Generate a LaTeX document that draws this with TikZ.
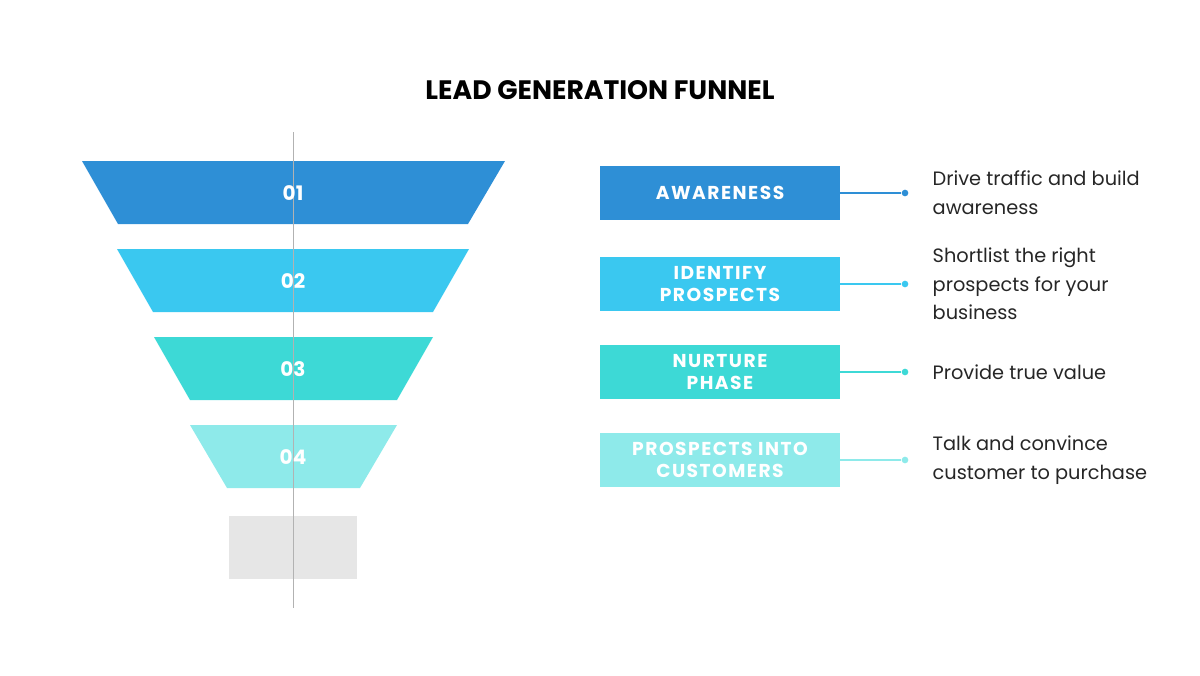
\documentclass[tikz,border=0pt]{standalone}
\usepackage{fontspec}
\setmainfont{Poppins}
\newfontfamily\boxfont[LetterSpace=8]{Poppins}
\definecolor{cA}{HTML}{2E8FD6}
\definecolor{cB}{HTML}{3AC8F0}
\definecolor{cC}{HTML}{3DD9D6}
\definecolor{cD}{HTML}{8EEAEA}
\definecolor{gr}{HTML}{E6E6E6}
\begin{document}
\begin{tikzpicture}[x=0.75pt,y=-0.75pt,
  num/.style={text=white,font=\fontsize{15}{18}\selectfont\bfseries},
  lbl/.style={text=white,font=\boxfont\fontsize{14}{17}\selectfont\bfseries,align=center},
  desc/.style={anchor=west,align=left,font=\fontsize{14.5}{21.5}\selectfont,text=black!85},
  dot/.style={circle,inner sep=0pt,minimum size=5pt}]
\useasboundingbox (0,0) rectangle (1200,675);
\node[font=\fontsize{20}{24}\selectfont\bfseries] (title) at (600,90) {LEAD GENERATION FUNNEL};
% funnel
\fill[cA] (82,161)--(505,161)--(468,224)--(118,224)--cycle;
\fill[cB] (117,249)--(469,249)--(433,312)--(153,312)--cycle;
\fill[cC] (154,337)--(433,337)--(397,400)--(190,400)--cycle;
\fill[cD] (190,425)--(397,425)--(360,488)--(227,488)--cycle;
\fill[gr] (229,516) rectangle (357,579);
\draw[black!30,line width=0.6pt] (293,132)--(293,608);
\node[num] (n1) at (293,193) {01};
\node[num] (n2) at (293,281) {02};
\node[num] (n3) at (293,369) {03};
\node[num] (n4) at (293,457) {04};
% boxes
\foreach \i/\c/\y/\t in {1/cA/193/AWARENESS,2/cB/284/IDENTIFY\\PROSPECTS,3/cC/372/NURTURE\\PHASE,4/cD/460/PROSPECTS INTO\\CUSTOMERS}{
  \fill[\c] (600,\y-27) rectangle (840,\y+27);
  \node[lbl] (b\i) at (720,\y) {\t};
  \coordinate (s\i) at (840,\y);
  \node[dot,fill=\c] (d\i) at (905,\y) {};
  \draw[\c,line width=0.8pt] (s\i)--(d\i);
}
\node[desc] (t1) at (928,193) {Drive traffic and build\\awareness};
\node[desc] (t2) at (928,284) {Shortlist the right\\prospects for your\\business};
\node[desc] (t3) at (928,372) {Provide true value};
\node[desc] (t4) at (928,460) {Talk and convince\\customer to purchase};
\end{tikzpicture}
\end{document}
